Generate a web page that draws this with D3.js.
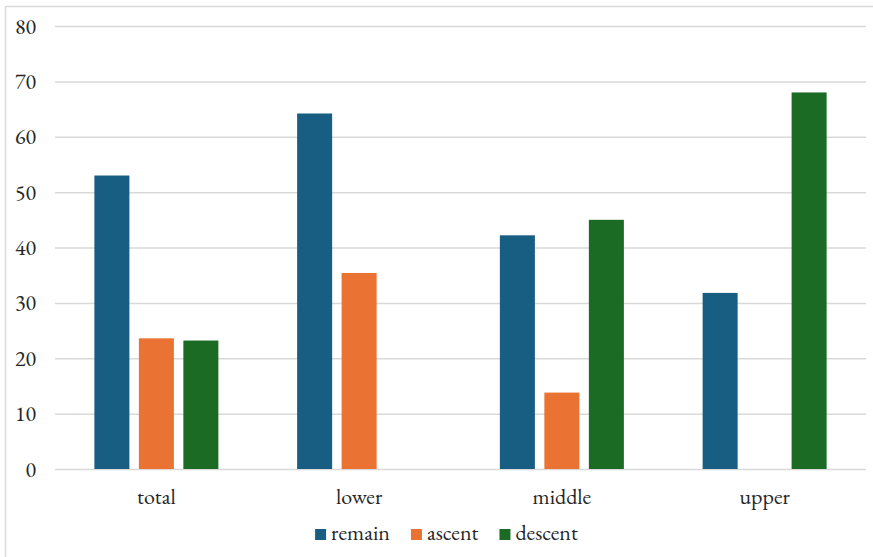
<!DOCTYPE html>
<html>
<head>
<meta charset="utf-8">
<script src="https://cdn.jsdelivr.net/npm/d3@7"></script>
<style>
  html, body { margin: 0; padding: 0; background: #fff; }
  svg { display: block; }
</style>
</head>
<body>
<div id="chart"></div>
<script>
// Share of each group by mobility outcome
const categories = ["total", "lower", "middle", "upper"];
const seriesNames = ["remain", "ascent", "descent"];
const remain  = [53.0, 64.2, 42.2, 31.8];
const ascent  = [23.6, 35.4, 13.8, 0];
const descent = [23.2, 0, 45.0, 68.0];
const yTicks = [0, 10, 20, 30, 40, 50, 60, 70, 80];
const colors = ["#175E82", "#EA7233", "#1B6B25"];

const FONT = '"EB Garamond", "Liberation Serif", serif';
const FONT_SIZE = 22;
const TEXT_COLOR = "#262626";

const seriesValues = [remain, ascent, descent];
const rows = categories.map((c, i) => ({
  category: c,
  values: seriesNames.map((s, j) => ({ key: s, value: seriesValues[j][i] }))
}));

const W = 873, H = 557;
const plot = { left: 55, right: 866, top: 26, bottom: 469 };

const svg = d3.select("#chart").append("svg")
  .attr("width", W).attr("height", H);

function styleText(sel) {
  sel.attr("font-size", FONT_SIZE).attr("fill", TEXT_COLOR)
    .style("font-family", FONT).style("font-variant-numeric", "lining-nums");
}

// outer frame
svg.append("rect")
  .attr("x", 5.5).attr("y", 6.5)
  .attr("width", W + 10).attr("height", H + 10)
  .attr("fill", "none").attr("stroke", "#d9d9d9").attr("stroke-width", 1.5);

const y = d3.scaleLinear().domain([0, 80]).range([plot.bottom, plot.top]);
const x0 = d3.scaleBand().domain(categories).range([plot.left, plot.right]).padding(0);
const groupW = x0.bandwidth();
const barsW = 124;
const x1 = d3.scaleBand().domain(seriesNames)
  .range([(groupW - barsW) / 2, (groupW + barsW) / 2])
  .paddingInner(0.213).paddingOuter(0);

// horizontal gridlines
const yAxis = d3.axisLeft(y).tickValues(yTicks).tickSize(-(plot.right - plot.left)).tickPadding(19);
const gy = svg.append("g").attr("transform", `translate(${plot.left},0)`).call(yAxis);
gy.attr("font-family", null);
gy.select(".domain").remove();
gy.selectAll(".tick line").attr("stroke", "#d9d9d9").attr("stroke-width", 1.5);
gy.selectAll(".tick text").call(styleText);

// bars
const groups = svg.append("g").selectAll("g").data(rows).join("g")
  .attr("transform", d => `translate(${x0(d.category)},0)`);
groups.selectAll("rect").data(d => d.values).join("rect")
  .attr("x", d => x1(d.key))
  .attr("width", x1.bandwidth())
  .attr("y", d => y(d.value))
  .attr("height", d => y(0) - y(d.value))
  .attr("fill", (d, i) => colors[i]);

// category axis
const xAxis = d3.axisBottom(x0).tickSize(0).tickPadding(19);
const gx = svg.append("g").attr("transform", `translate(0,${plot.bottom})`).call(xAxis);
gx.attr("font-family", null);
gx.select(".domain").remove();
gx.selectAll(".tick text").call(styleText);

// legend
const legend = svg.append("g");
const items = legend.selectAll("g").data(seriesNames).join("g");
items.append("rect").attr("width", 11).attr("height", 11).attr("y", -11)
  .attr("fill", (d, i) => colors[i]);
items.append("text").attr("x", 16).attr("y", 0).text(d => d).call(styleText);
let cx = 0;
items.each(function () {
  const g = d3.select(this);
  g.attr("transform", `translate(${cx},0)`);
  cx += 16 + g.select("text").node().getComputedTextLength() + 21;
});
const total = cx - 21;
legend.attr("transform", `translate(${446.5 - total / 2},540)`);
</script>
</body>
</html>
